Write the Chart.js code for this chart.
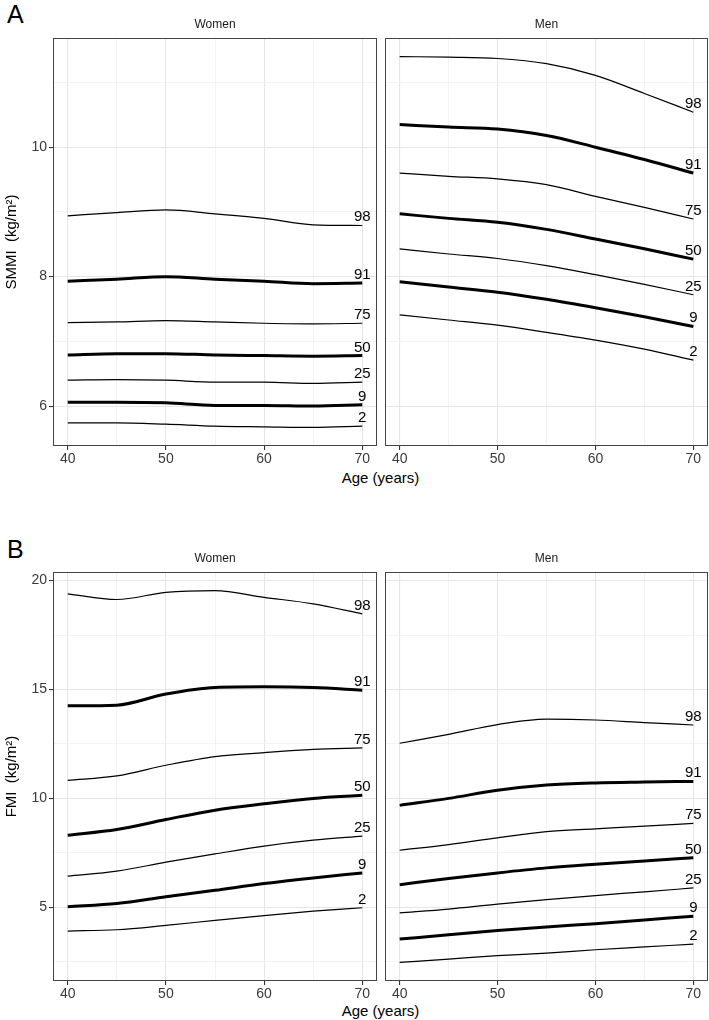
<!DOCTYPE html>
<html><head><meta charset="utf-8">
<script src="https://cdn.jsdelivr.net/npm/chart.js@4.4.1/dist/chart.umd.min.js"></script>
<style>
html,body{margin:0;padding:0;background:#fff;}
body{width:709px;height:1020px;position:relative;overflow:hidden;font-family:"Liberation Sans",Arial,Helvetica,sans-serif;}
canvas{position:absolute;}
.t{position:absolute;color:#000;line-height:1;white-space:nowrap;}
</style></head><body>
<div class="t" style="left:7px;top:2px;font-size:25px">A</div>
<div class="t" style="left:7px;top:537px;font-size:25px">B</div>
<div class="t" style="left:280px;width:201px;text-align:center;top:470px;font-size:15px">Age (years)</div>
<div class="t" style="left:280px;width:201px;text-align:center;top:1003px;font-size:15px">Age (years)</div>
<canvas id="aW" width="380" height="470" style="left:0;top:0"></canvas>
<canvas id="aM" width="329" height="470" style="left:380px;top:0"></canvas>
<canvas id="bW" width="380" height="505" style="left:0;top:500px"></canvas>
<canvas id="bM" width="329" height="505" style="left:380px;top:500px"></canvas>
<script>
// ---- data ----
const ages = [40, 45, 50, 55, 60, 65, 70];
const pctLabels = ['98', '91', '75', '50', '25', '9', '2'];
const thickLines = [false, true, false, true, false, true, false];

// SMMI (kg/m2), rows = percentiles 98,91,75,50,25,9,2
const smmiWomen = [
  [8.94, 8.99, 9.03, 8.97, 8.90, 8.80, 8.79],
  [7.93, 7.96, 8.00, 7.96, 7.93, 7.89, 7.90],
  [7.29, 7.30, 7.32, 7.30, 7.28, 7.27, 7.28],
  [6.79, 6.81, 6.81, 6.79, 6.78, 6.77, 6.78],
  [6.40, 6.41, 6.40, 6.37, 6.37, 6.35, 6.37],
  [6.06, 6.06, 6.05, 6.01, 6.01, 6.00, 6.02],
  [5.74, 5.74, 5.72, 5.69, 5.68, 5.67, 5.69]
];
const smmiMen = [
  [11.40, 11.39, 11.37, 11.29, 11.11, 10.83, 10.54],
  [10.35, 10.31, 10.28, 10.18, 10.00, 9.81, 9.60],
  [9.60, 9.55, 9.51, 9.42, 9.24, 9.07, 8.89],
  [8.97, 8.90, 8.84, 8.73, 8.58, 8.43, 8.27],
  [8.43, 8.35, 8.28, 8.17, 8.03, 7.88, 7.72],
  [7.92, 7.84, 7.76, 7.65, 7.52, 7.38, 7.23],
  [7.41, 7.33, 7.25, 7.14, 7.02, 6.88, 6.71]
];
// FMI (kg/m2)
const fmiWomen = [
  [19.39, 19.13, 19.46, 19.54, 19.23, 18.93, 18.47],
  [14.25, 14.28, 14.79, 15.09, 15.12, 15.09, 14.97],
  [10.83, 11.03, 11.52, 11.92, 12.10, 12.25, 12.32],
  [8.31, 8.57, 9.03, 9.46, 9.75, 10.00, 10.14],
  [6.43, 6.66, 7.07, 7.45, 7.81, 8.08, 8.27],
  [5.03, 5.17, 5.48, 5.78, 6.09, 6.35, 6.58],
  [3.91, 3.97, 4.17, 4.40, 4.62, 4.82, 4.98]
];
const fmiMen = [
  [12.53, 12.94, 13.39, 13.64, 13.60, 13.48, 13.37],
  [9.68, 10.00, 10.37, 10.61, 10.71, 10.75, 10.78],
  [7.62, 7.88, 8.19, 8.47, 8.60, 8.73, 8.85],
  [6.04, 6.32, 6.58, 6.81, 6.98, 7.13, 7.27],
  [4.74, 4.92, 5.15, 5.35, 5.54, 5.71, 5.89],
  [3.54, 3.74, 3.93, 4.10, 4.25, 4.42, 4.59],
  [2.47, 2.62, 2.78, 2.90, 3.05, 3.18, 3.31]
];

const xMajorTicks = [40, 50, 60, 70];
const xMinorTicks = [45, 55, 65];
const smmiMajorTicks = [6, 8, 10];
const smmiMinorTicks = [7, 9, 11];
const fmiMajorTicks = [5, 10, 15, 20];
const fmiMinorTicks = [2.5, 7.5, 12.5, 17.5];

// ---- helpers ----
const FONT = '"Liberation Sans", Arial, Helvetica, sans-serif';
function range(rowsA, rowsB) {
  const all = rowsA.flat().concat(rowsB.flat());
  const lo = Math.min(...all), hi = Math.max(...all);
  const p = (hi - lo) * 0.05;
  return [lo - p, hi + p];
}
const xLo = Math.min(...ages), xHi = Math.max(...ages);
const xPad = (xHi - xLo) * 0.05;

const framePlugin = {
  id: 'frame',
  beforeDatasetsDraw(chart) {
    const {ctx, chartArea: a} = chart;
    ctx.save();
    ctx.strokeStyle = '#444';
    ctx.lineWidth = 1;
    ctx.strokeRect(Math.round(a.left) + 0.5, Math.round(a.top) + 0.5,
      Math.round(a.right - a.left) - 1, Math.round(a.bottom - a.top) - 1);
    ctx.restore();
  },
  afterDatasetsDraw(chart) {
    const {ctx, chartArea: a} = chart;
    const o = chart.options.plugins.frame;
    ctx.save();
    // strip title
    ctx.fillStyle = '#1a1a1a';
    ctx.font = '12px ' + FONT;
    ctx.textAlign = 'center';
    ctx.textBaseline = 'middle';
    ctx.fillText(o.strip, (a.left + a.right) / 2, a.top - 13);
    // percentile labels at right end
    ctx.fillStyle = '#000';
    ctx.font = '15px ' + FONT;
    ctx.textBaseline = 'alphabetic';
    const xs = chart.scales.x, ys = chart.scales.y;
    chart.data.datasets.forEach(ds => {
      const last = ds.data[ds.data.length - 1];
      ctx.fillText(ds.label, xs.getPixelForValue(last.x), ys.getPixelForValue(last.y) - 4);
    });
    ctx.restore();
  }
};

function build(id, rows, yr, yMajor, yMinor, strip, showY, yTitle, padTop, padRight) {
  const datasets = rows.map((vals, i) => ({
    label: pctLabels[i],
    data: ages.map((a, j) => ({x: a, y: vals[j]})),
    borderColor: '#000',
    borderWidth: thickLines[i] ? 3 : 1.2,
    pointRadius: 0,
    cubicInterpolationMode: 'monotone',
    fill: false
  }));
  const gridFor = (major) => ({
    color: c => (c.tick && major.includes(c.tick.value)) ? '#e6e6e6' : '#f0f0f0',
    lineWidth: c => (c.tick && major.includes(c.tick.value)) ? 1.1 : 0.8,
    tickColor: c => (c.tick && major.includes(c.tick.value)) ? '#333' : 'rgba(0,0,0,0)',
    tickLength: 4,
    drawTicks: true
  });
  const yGrid = gridFor(yMajor);
  if (!showY) { yGrid.drawTicks = false; }
  new Chart(document.getElementById(id), {
    type: 'line',
    data: {datasets},
    plugins: [framePlugin],
    options: {
      responsive: false,
      animation: false,
      devicePixelRatio: 1,
      layout: {padding: {top: padTop, right: padRight, left: 0, bottom: 0}},
      plugins: {legend: {display: false}, tooltip: {enabled: false}, frame: {strip}},
      scales: {
        x: {
          type: 'linear', min: xLo - xPad, max: xHi + xPad,
          afterBuildTicks: s => { s.ticks = xMajorTicks.concat(xMinorTicks).sort((a, b) => a - b).map(v => ({value: v})); },
          afterFit: s => { s.height = 24; },
          border: {display: false},
          grid: gridFor(xMajorTicks),
          ticks: {
            autoSkip: false, maxRotation: 0, padding: 1, color: '#3a3a3a',
            font: {size: 14, family: FONT},
            callback: v => xMajorTicks.includes(v) ? String(v) : ''
          }
        },
        y: {
          type: 'linear', min: yr[0], max: yr[1],
          afterBuildTicks: s => { s.ticks = yMajor.concat(yMinor).sort((a, b) => a - b).map(v => ({value: v})); },
          afterFit: s => { s.width = showY ? 53 : 5; },
          border: {display: false},
          grid: yGrid,
          title: {display: showY, text: yTitle, color: '#000', padding: {top: 3, bottom: 0}, font: {size: 15, family: FONT}},
          ticks: {
            display: showY, autoSkip: false, padding: 2, color: '#3a3a3a',
            font: {size: 14, family: FONT},
            callback: v => yMajor.includes(v) ? String(v) : ''
          }
        }
      }
    }
  });
}

const rA = range(smmiWomen, smmiMen);
const rB = range(fmiWomen, fmiMen);
build('aW', smmiWomen, rA, smmiMajorTicks, smmiMinorTicks, 'Women', true, 'SMMI  (kg/m²)', 38, 3);
build('aM', smmiMen, rA, smmiMajorTicks, smmiMinorTicks, 'Men', false, '', 38, 1);
build('bW', fmiWomen, rB, fmiMajorTicks, fmiMinorTicks, 'Women', true, 'FMI  (kg/m²)', 72, 3);
build('bM', fmiMen, rB, fmiMajorTicks, fmiMinorTicks, 'Men', false, '', 72, 1);
</script>
</body></html>
